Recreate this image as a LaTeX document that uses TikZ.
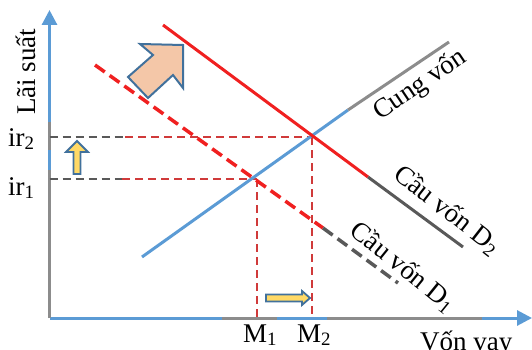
\documentclass[tikz,border=0pt]{standalone}
\usepackage{fontspec}
\setmainfont{Liberation Serif}
\usetikzlibrary{arrows.meta}
\definecolor{axblue}{HTML}{5B9BD5}
\definecolor{dred}{HTML}{F02020}
\definecolor{lred}{HTML}{D03A3A}
\definecolor{mgray}{HTML}{8C8C8C}
\definecolor{dgray}{HTML}{595959}
\definecolor{peach}{HTML}{F4C7A8}
\definecolor{edgeblue}{HTML}{41719C}
\definecolor{arryel}{HTML}{FFD966}
\tikzset{
  axis/.style={draw=axblue, line width=3pt},
  thindash/.style={line width=1.1pt, dash pattern=on 8pt off 5pt},
  lbl/.style={font=\fontsize{27}{30}\selectfont, inner sep=0pt},
  blockarrow/.style={draw=edgeblue, line width=2pt, line join=miter},
}
\begin{document}
\begin{tikzpicture}[x=1pt,y=-1pt]
\useasboundingbox (0,0) rectangle (532,350);
% axes
\coordinate (O) at (49.5,318);
\coordinate (ytop) at (49.5,10);
\coordinate (xend) at (532,318);
\draw[axis, -{Triangle[length=15pt,width=15pt]}] (O) -- (ytop);
\draw[axis, -{Triangle[length=15pt,width=15pt]}] (O) -- (xend);
% gray overlays on axes
\draw[mgray, line width=3pt] (49.5,122) -- (49.5,150);
\draw[mgray, line width=3pt] (49.5,170) -- (49.5,318);
\draw[mgray, line width=2.5pt] (222,318.5) -- (277,318.5);
\draw[mgray, line width=2.5pt] (327,318.5) -- (482,318.5);
% guide dashed lines
\coordinate (ir2a) at (49.5,137);
\coordinate (ir2b) at (125,137);
\coordinate (ir1a) at (49.5,179);
\coordinate (ir1b) at (122,179);
\coordinate (E2) at (312,137);
\coordinate (E1) at (257,179);
\coordinate (M1b) at (257,318);
\coordinate (M2b) at (312,318);
\draw[dgray, thindash] (ir2a) -- (ir2b);
\draw[lred, thindash] (ir2b) -- (E2);
\draw[dgray, thindash] (ir1a) -- (ir1b);
\draw[lred, thindash] (ir1b) -- (E1);
\draw[lred, thindash] (E1) -- (M1b);
\draw[lred, thindash] (E2) -- (M2b);
% supply
\coordinate (s0) at (142,257);
\coordinate (s1) at (348,110);
\coordinate (s2) at (449,42);
\draw[axblue, line width=3pt] (s0) -- (s1);
\draw[mgray, line width=3pt] (s1) -- (s2);
% demand D1 (dashed)
\coordinate (d10) at (95,65);
\coordinate (d11) at (323,228);
\coordinate (d12) at (398,283);
\draw[dred, line width=3.5pt, dash pattern=on 12pt off 6pt] (d10) -- (d11);
\draw[dgray, line width=3.5pt, dash pattern=on 12pt off 6pt] (d11) -- (d12);
% demand D2
\coordinate (d20) at (163,25);
\coordinate (d21) at (368,177);
\coordinate (d22) at (463,247);
\draw[dred, line width=3pt] (d20) -- (d21);
\draw[dgray, line width=3pt] (d21) -- (d22);
% big arrow
\filldraw[blockarrow, fill=peach] (183,45) -- (183,88) -- (173,75) -- (148,98) -- (128,77) -- (153,55) -- (140,44) -- cycle;
% small yellow arrows
\filldraw[blockarrow, line width=1.8pt, fill=arryel] (77,141) -- (88,152) -- (80.5,152) -- (80.5,174) -- (73.5,174) -- (73.5,152) -- (66,152) -- cycle;
\filldraw[blockarrow, line width=1.8pt, fill=arryel] (310,298) -- (302,291) -- (302,294.5) -- (266,294.5) -- (266,301.5) -- (302,301.5) -- (302,305) -- cycle;
% labels
\node[lbl, rotate=90, anchor=base west] (ylab) at (35,115) {Lãi suất};
\node[lbl, anchor=base west] (ir2) at (8,146) {ir\textsubscript{2}};
\node[lbl, anchor=base west] (ir1) at (8,195) {ir\textsubscript{1}};
\node[lbl, anchor=base west] (m1) at (243,342) {M\textsubscript{1}};
\node[lbl, anchor=base west] (m2) at (297,342) {M\textsubscript{2}};
\node[lbl, anchor=base west] (xlab) at (420,350) {Vốn vay};
\node[lbl, rotate=34] (cung) at (420,85) {Cung vốn};
\node[lbl, rotate=-38] (cau2) at (447,210) {Cầu vốn D\textsubscript{2}};
\node[lbl, rotate=-39] (cau1) at (403,267) {Cầu vốn D\textsubscript{1}};
\end{tikzpicture}
\end{document}
